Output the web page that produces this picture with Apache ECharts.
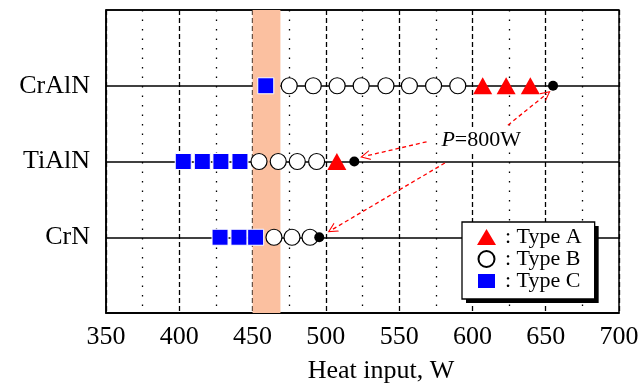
<!DOCTYPE html>
<html>
<head>
<meta charset="utf-8">
<script src="https://cdn.jsdelivr.net/npm/echarts@6/dist/echarts.min.js"></script>
<style>
  html, body { margin: 0; padding: 0; background: #fff; }
  #chart { width: 638px; height: 383px; }
</style>
</head>
<body>
<div id="chart"></div>
<script>
// rows on the y axis (value 1, 2, 3)
var coatings = ["CrN", "TiAlN", "CrAlN"];
var xTicks = [350, 400, 450, 500, 550, 600, 650, 700];

// heat input of each test, per coating row
var typeA = { CrAlN: [607, 623, 639.5], TiAlN: [507.5], CrN: [] };
var typeB = {
  CrAlN: [475, 491.4, 507.7, 524.1, 541, 557, 573.5, 590],
  TiAlN: [454.4, 467.5, 480.5, 493.7],
  CrN: [464.6, 476.9, 489.2]
};
var typeC = {
  CrAlN: [459],
  TiAlN: [402.7, 415.7, 428.4, 441.4],
  CrN: [427.8, 440.7, 452.1]
};
// P = 800 W points
var p800 = { CrAlN: 655, TiAlN: 519.4, CrN: 495.5 };

// shaded range of heat input
var band = [450, 469];

// annotation arrows [from, to] in data coords
var arrows = [
  [[624.2, 2.48], [650.6, 2.89]],
  [[568.7, 2.26], [526.7, 2.07]],
  [[581.2, 1.98], [504.2, 1.1]]
];
var labelPos = [606, 2.275];

function toPoints(obj) {
  var out = [];
  coatings.forEach(function (c, i) {
    (obj[c] || []).forEach(function (x) { out.push([x, i + 1]); });
  });
  return out;
}

var serif = "'Liberation Serif', 'Times New Roman', serif";
var chart = echarts.init(document.getElementById("chart"));

var legendBase = {
  data: ["Type A", "Type B", "Type C"],
  orient: "vertical",
  padding: [4, 13, 7, 14],
  itemGap: 0,
  itemWidth: 19, itemHeight: 16,
  borderRadius: 0,
  formatter: function (n) { return ": " + n; },
  selectedMode: false
};

chart.setOption({
  animation: false,
  backgroundColor: "#fff",
  textStyle: { fontFamily: serif },
  grid: {
    left: 106, right: 19, top: 10, bottom: 70,
    outerBoundsMode: "none",
    containLabel: false,
    show: true, borderColor: "#000", borderWidth: 1.5
  },
  legend: [
    // drop shadow
    Object.assign({}, legendBase, {
      left: 466, top: 226,
      backgroundColor: "#000",
      borderWidth: 0,
      itemStyle: { opacity: 0 },
      textStyle: { fontFamily: serif, fontSize: 22, color: "rgba(0,0,0,0)", lineHeight: 22, padding: [0, 0, 0, 4] }
    }),
    Object.assign({}, legendBase, {
      left: 462, top: 222,
      backgroundColor: "#fff",
      borderColor: "#000", borderWidth: 1.3,
      textStyle: { fontFamily: serif, fontSize: 22, color: "#000", lineHeight: 22, padding: [0, 0, 0, 4] }
    })
  ],
  xAxis: {
    type: "value",
    min: 350, max: 700, interval: 50,
    name: "Heat input, W",
    nameLocation: "middle",
    nameGap: 45,
    nameTextStyle: { fontFamily: serif, fontSize: 26, color: "#000", padding: [0, 0, 0, 37] },
    axisLine: { show: true, lineStyle: { color: "#000", width: 1.5 } },
    axisTick: { show: false },
    axisLabel: { fontFamily: serif, fontSize: 26, color: "#000", margin: 11 },
    splitLine: { show: true, lineStyle: { color: "#000", width: 1.3, type: [5, 3] } },
    minorTick: { show: false, splitNumber: 2 },
    minorSplitLine: { show: true, lineStyle: { color: "#000", width: 1.3, type: [1.5, 8] } }
  },
  yAxis: {
    type: "value",
    min: 0, max: 4, interval: 1,
    axisLine: { show: true, lineStyle: { color: "#000", width: 1.5 } },
    axisTick: { show: false },
    axisLabel: {
      fontFamily: serif, fontSize: 26, color: "#000", margin: 16,
      padding: [6, 0, 0, 0],
      formatter: function (v) { return coatings[v - 1] || ""; }
    },
    splitLine: { show: true, lineStyle: { color: "#000", width: 1.5 } }
  },
  series: [
    {
      name: "band",
      type: "scatter",
      data: [],
      z: -1,
      silent: true,
      markArea: {
        silent: true,
        itemStyle: { color: "#FBC0A0", opacity: 1 },
        data: [[{ xAxis: band[0] }, { xAxis: band[1] }]]
      }
    },
    {
      name: "Type C",
      type: "scatter",
      symbol: "rect",
      symbolSize: 16,
      itemStyle: { color: "#0000FF", borderColor: "#fff", borderWidth: 1, opacity: 1 },
      data: toPoints(typeC)
    },
    {
      name: "Type B",
      type: "scatter",
      symbol: "circle",
      symbolSize: 16,
      itemStyle: { color: "#fff", borderColor: "#000", borderWidth: 1.2, opacity: 1 },
      data: toPoints(typeB)
    },
    {
      name: "Type A",
      type: "scatter",
      symbol: "triangle",
      symbolSize: [19, 17],
      itemStyle: { color: "#FF0000", opacity: 1 },
      data: toPoints(typeA)
    },
    {
      name: "P800",
      type: "scatter",
      symbol: "circle",
      symbolSize: 10,
      itemStyle: { color: "#000", opacity: 1 },
      data: coatings.map(function (c, i) { return [p800[c], i + 1]; }),
      markLine: {
        silent: true,
        symbol: ["none", "path://M0,10 L5,0 L10,10 L8.8,10 L5,2.4 L1.2,10 Z"],
        symbolSize: [10, 10],
        label: { show: false },
        lineStyle: { color: "#FF0000", width: 1.3, type: [4, 3], opacity: 1 },
        data: arrows.map(function (a) {
          return [{ coord: a[0] }, { coord: a[1] }];
        })
      }
    },
    {
      name: "label",
      type: "scatter",
      symbolSize: 0,
      silent: true,
      itemStyle: { opacity: 1 },
      data: [labelPos],
      label: {
        show: true,
        position: "inside",
        formatter: "{i|P}=800W",
        fontFamily: serif, fontSize: 22, color: "#000",
        backgroundColor: "#fff",
        rich: { i: { fontStyle: "italic", fontFamily: serif, fontSize: 22, color: "#000" } }
      }
    }
  ]
});
</script>
</body>
</html>
